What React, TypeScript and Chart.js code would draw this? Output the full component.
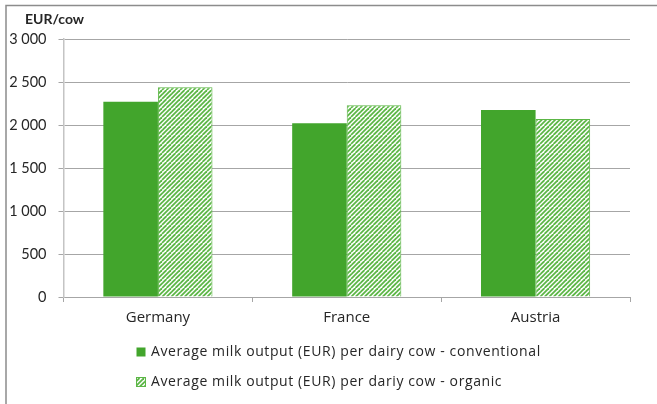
import React, { useEffect, useRef } from "react";
import { Chart, registerables } from "chart.js";

Chart.register(...registerables);

const categories = ["Germany", "France", "Austria"];
const conventional = [2270, 2020, 2175];
const organic = [2440, 2230, 2070];
const seriesLabels = [
  "Average milk output (EUR) per dairy cow - conventional",
  "Average milk output (EUR) per dariy cow - organic",
];
const unitTitle = "EUR/cow";
const yMax = 3000;
const yStep = 500;

const GREEN = "#42a52c";
const GREEN_LIGHT = "#5cb646";
const GRID = "#a6a6a6";
const TEXT = "#262626";
const FONT = "Lato, 'Open Sans', sans-serif";
const LABEL_FONT = "'Open Sans', Lato, sans-serif";

function makeHatch(): CanvasPattern | string {
  const size = 9;
  const c = document.createElement("canvas");
  c.width = size;
  c.height = size;
  const g = c.getContext("2d");
  if (!g) return GREEN;
  g.fillStyle = "#ffffff";
  g.fillRect(0, 0, size, size);
  g.strokeStyle = GREEN_LIGHT;
  g.lineWidth = 1.8;
  const step = size / 2;
  for (let k = -2; k <= 3; k++) {
    g.beginPath();
    g.moveTo(k * step, size);
    g.lineTo(k * step + size, 0);
    g.stroke();
  }
  return g.createPattern(c, "repeat") || GREEN;
}

const formatThousands = (v: number) =>
  String(v).replace(/\B(?=(\d{3})+(?!\d))/g, " ");

export default function App() {
  const ref = useRef<HTMLCanvasElement | null>(null);

  useEffect(() => {
    if (!ref.current) return;
    const hatch = makeHatch();

    // Outer frame, unit title and a left-aligned stacked legend
    const decorations = {
      id: "decorations",
      afterDraw(chart: Chart) {
        const ctx = chart.ctx as any;
        ctx.save();
        ctx.strokeStyle = "#8c8c8c";
        ctx.lineWidth = 1.5;
        ctx.beginPath();
        ctx.moveTo(6, 420);
        ctx.lineTo(6, 5.5);
        ctx.lineTo(680, 5.5);
        ctx.stroke();

        ctx.fillStyle = TEXT;
        ctx.font = `bold 14px ${FONT}`;
        ctx.textBaseline = "middle";
        ctx.textAlign = "left";
        ctx.fillText(unitTitle, 25, 19);

        const ds = chart.data.datasets;
        const rows = [352, 382];
        ds.forEach((d: any, i: number) => {
          const y = rows[i];
          const bx = 136.5;
          const by = y - 4.5;
          ctx.fillStyle = d.backgroundColor;
          ctx.fillRect(bx, by, 9, 9);
          if (d.borderWidth) {
            ctx.strokeStyle = d.borderColor;
            ctx.lineWidth = 1;
            ctx.strokeRect(bx, by, 9, 9);
          }
          ctx.fillStyle = TEXT;
          ctx.font = `14px ${LABEL_FONT}`;
          ctx.letterSpacing = "0.6px";
          ctx.textBaseline = "middle";
          ctx.fillText(d.label, 151, y);
          ctx.letterSpacing = "0px";
        });
        ctx.restore();
      },
    };

    const chart = new Chart(ref.current, {
      type: "bar",
      data: {
        labels: categories,
        datasets: [
          {
            label: seriesLabels[0],
            data: conventional,
            backgroundColor: GREEN,
            borderWidth: 0,
            categoryPercentage: 0.578,
            barPercentage: 1,
          },
          {
            label: seriesLabels[1],
            data: organic,
            backgroundColor: hatch as any,
            borderColor: GREEN_LIGHT,
            borderWidth: 1,
            categoryPercentage: 0.578,
            barPercentage: 1,
          },
        ],
      },
      options: {
        animation: false,
        responsive: false,
        devicePixelRatio: 1,
        layout: { padding: { top: 39, right: 27, left: 0, bottom: 0 } },
        plugins: {
          legend: { display: false },
          tooltip: { enabled: false },
          title: { display: false },
        },
        scales: {
          x: {
            type: "category",
            grid: {
              drawOnChartArea: false,
              drawTicks: true,
              tickLength: 5,
              color: GRID,
              offset: true,
            },
            border: { color: GRID, width: 1 },
            ticks: {
              color: TEXT,
              font: { family: LABEL_FONT, size: 15 },
              padding: 7,
              maxRotation: 0,
            },
            afterFit(scale: any) {
              scale.height = 107;
            },
          },
          y: {
            min: 0,
            max: yMax,
            grid: { color: GRID, tickLength: 5, lineWidth: 1 },
            border: { color: "#c4c4c4", width: 1.5 },
            ticks: {
              stepSize: yStep,
              color: TEXT,
              padding: 12,
              font: { family: FONT, size: 14.5 },
              callback: (v: any) => formatThousands(Number(v)),
            },
            afterFit(scale: any) {
              scale.width = 63.5;
            },
          },
        },
      },
      plugins: [decorations],
    });

    return () => chart.destroy();
  }, []);

  return (
    <div
      style={{
        position: "fixed",
        left: 0,
        top: 0,
        width: 657,
        height: 404,
        background: "#ffffff",
      }}
    >
      <canvas ref={ref} width={657} height={404} style={{ width: 657, height: 404 }} />
    </div>
  );
}
